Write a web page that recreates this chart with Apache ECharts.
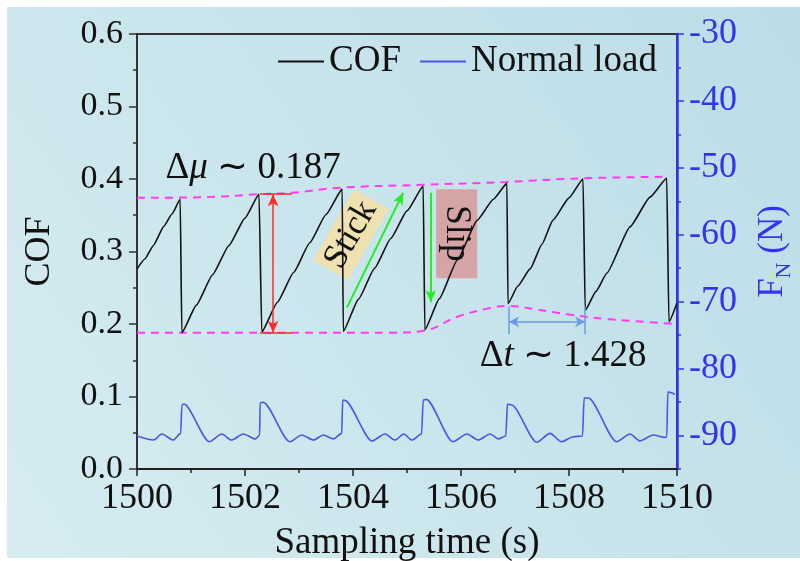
<!DOCTYPE html>
<html>
<head>
<meta charset="utf-8">
<script src="https://cdn.jsdelivr.net/npm/echarts@6/dist/echarts.min.js"></script>
<style>html,body{margin:0;padding:0;background:#fff;}#c{width:800px;height:561px;}</style>
</head>
<body>
<div id="c"></div>
<script>
// ---- data ----
const cofT = [1500.00,1500.15,1500.30,1500.50,1500.65,1500.80,1500.83,1501.10,1501.40,1501.70,1502.00,1502.26,1502.31,1502.60,1502.90,1503.20,1503.50,1503.80,1503.82,1504.10,1504.40,1504.70,1505.00,1505.30,1505.33,1505.60,1505.93,1506.30,1506.60,1506.85,1506.87,1507.05,1507.28,1507.50,1507.70,1508.00,1508.26,1508.30,1508.50,1508.70,1509.13,1509.50,1509.81,1509.85,1510.00];
const cofV = [0.276,0.290,0.308,0.335,0.352,0.372,0.188,0.226,0.268,0.308,0.346,0.379,0.189,0.230,0.271,0.312,0.351,0.386,0.190,0.234,0.277,0.318,0.356,0.390,0.192,0.235,0.288,0.343,0.372,0.394,0.228,0.252,0.276,0.310,0.343,0.374,0.400,0.219,0.245,0.270,0.334,0.375,0.401,0.203,0.229];
const loadT = [1500.00,1500.31,1500.46,1500.67,1500.81,1500.83,1500.87,1501.34,1501.57,1501.75,1501.97,1502.19,1502.27,1502.28,1502.34,1502.83,1503.05,1503.27,1503.45,1503.64,1503.79,1503.81,1503.85,1504.35,1504.59,1504.78,1504.94,1505.09,1505.27,1505.30,1505.36,1505.85,1506.11,1506.32,1506.54,1506.69,1506.83,1506.86,1506.94,1507.40,1507.65,1507.86,1508.08,1508.25,1508.28,1508.36,1508.88,1509.13,1509.31,1509.56,1509.78,1509.81,1509.83,1509.90,1509.96];
const loadV = [-90.07,-90.67,-89.77,-90.67,-89.67,-85.44,-85.29,-90.92,-89.77,-90.67,-89.77,-90.50,-90.00,-85.09,-85.04,-90.92,-89.92,-90.67,-89.92,-90.50,-89.67,-84.69,-84.75,-90.82,-89.77,-90.67,-89.77,-90.67,-89.77,-84.69,-84.60,-90.92,-89.77,-90.67,-89.77,-90.50,-90.07,-85.29,-85.44,-91.00,-89.67,-90.92,-90.17,-90.07,-84.40,-84.40,-90.92,-89.77,-90.80,-89.92,-90.27,-90.20,-83.50,-83.60,-83.90];
const upperEnvT = [1500.00,1501.30,1502.26,1502.87,1503.76,1505.30,1506.85,1508.24,1509.81];
const upperEnvV = [0.374,0.375,0.379,0.381,0.388,0.392,0.396,0.401,0.403];
const lowerEnvT = [1500.00,1502.30,1504.69,1505.33,1505.93,1506.54,1506.89,1507.40,1508.00,1508.70,1509.96];
const lowerEnvV = [0.188,0.188,0.188,0.191,0.210,0.222,0.225,0.220,0.213,0.207,0.200];
const seriesNames = ['COF','Normal load'];
const xTickLabels = [1500,1502,1504,1506,1508,1510];
const leftTickLabels = ['0.0','0.1','0.2','0.3','0.4','0.5','0.6'];
const rightMajorTicks = [-90,-80,-70,-60,-50,-40,-30];
const rightMinorTicks = [-95,-85,-75,-65,-55,-45,-35];
const deltaMuText = '0.187';
const deltaTText = '1.428';

const zip = (a,b)=>a.map((v,i)=>[v,b[i]]);
const FONT = "'Liberation Serif','Times New Roman',serif";
const BLUE_AX = '#3434ee';
const BLUE_LN = '#4b55ea';
const MAG = '#ff3cf0';
const RED = '#ff2a2a';
const GREEN = '#22ee22';
const DTBLUE = '#6b9be6';

const chart = echarts.init(document.getElementById('c'), null, {renderer:'canvas'});

function seg(a, b, color, width, s0, s1, size) {
  return [
    {coord:a, symbol:s0, symbolSize:size, lineStyle:{color:color, width:width, type:'solid'}},
    {coord:b, symbol:s1, symbolSize:size}
  ];
}

const option = {
  animation:false,
  backgroundColor:'#ffffff',
  textStyle:{fontFamily:FONT},
  grid:{left:137, right:123, top:34, bottom:92, show:true, borderColor:'#333', borderWidth:2, backgroundColor:'transparent', outerBoundsMode:'none'},
  legend:{
    data:seriesNames, right:138, top:38, itemWidth:46, itemHeight:2, itemGap:19, icon:'rect',
    textStyle:{fontFamily:FONT, fontSize:37, color:'#111'}
  },
  xAxis:{
    type:'value', min:1500, max:1510, interval:2,
    name:'Sampling time (s)', nameLocation:'middle', nameGap:56,
    nameTextStyle:{fontFamily:FONT, fontSize:37, color:'#111'},
    axisLine:{lineStyle:{color:'#222', width:2}},
    axisTick:{length:7, lineStyle:{color:'#222', width:1.5}},
    minorTick:{show:true, splitNumber:2, length:4, lineStyle:{color:'#222', width:1.5}},
    axisLabel:{fontFamily:FONT, fontSize:36, color:'#111', margin:12,
      formatter:v=> xTickLabels.includes(v) ? String(v) : ''},
    splitLine:{show:false}
  },
  yAxis:[
    {
      type:'value', min:0, max:0.6, interval:0.1, position:'left',
      name:'COF', nameLocation:'middle', nameGap:79, nameRotate:90,
      nameTextStyle:{fontFamily:FONT, fontSize:36, color:'#111'},
      axisLine:{show:true, lineStyle:{color:'#333', width:2}},
      axisTick:{length:8, lineStyle:{color:'#333', width:1.5}},
      minorTick:{show:true, splitNumber:2, length:4, lineStyle:{color:'#333', width:1.5}},
      axisLabel:{fontFamily:FONT, fontSize:34, color:'#111', margin:14,
        formatter:v=> leftTickLabels[Math.round(v*10)]},
      splitLine:{show:false}
    },
    {
      type:'value', min:-95, max:-30, position:'right',
      name:'{f|F}{s|N}{f| (N)}', nameLocation:'middle', nameGap:74, nameRotate:90,
      nameTextStyle:{rich:{
        f:{fontFamily:FONT, fontSize:35, color:BLUE_AX, lineHeight:44, verticalAlign:'middle'},
        s:{fontFamily:FONT, fontSize:22, color:BLUE_AX, lineHeight:20, verticalAlign:'bottom'}
      }},
      axisLine:{show:true, lineStyle:{color:BLUE_AX, width:2.5}},
      axisTick:{length:7, customValues:rightMajorTicks, lineStyle:{color:BLUE_AX, width:1.5}},
      axisLabel:{fontFamily:FONT, fontSize:36, color:BLUE_AX, margin:12, customValues:rightMajorTicks},
      splitLine:{show:false}
    },
    {
      type:'value', min:-95, max:-30, position:'right',
      axisLine:{show:false},
      axisTick:{show:true, length:4, customValues:rightMinorTicks, lineStyle:{color:BLUE_AX, width:1.5}},
      axisLabel:{show:false, customValues:rightMinorTicks},
      splitLine:{show:false}
    }
  ],
  series:[
    {
      name:'upper', type:'line', yAxisIndex:0, data:zip(upperEnvT, upperEnvV),
      smooth:0.4, symbol:'none', silent:true,
      lineStyle:{color:MAG, width:2, type:[8,6]}, z:1
    },
    {
      name:'lower', type:'line', yAxisIndex:0, data:zip(lowerEnvT, lowerEnvV),
      smooth:0.4, symbol:'none', silent:true,
      lineStyle:{color:MAG, width:2, type:[8,6]}, z:1
    },
    {
      name:'COF', type:'line', yAxisIndex:0, data:zip(cofT, cofV),
      symbol:'none', smooth:0.15, smoothMonotone:'x',
      lineStyle:{color:'#111', width:1.6}, itemStyle:{color:'#111'}, z:3,
      markLine:{
        silent:true, animation:false, label:{show:false},
        data:[
          seg([1502.52,0.379],[1502.52,0.188], RED, 1.5, 'arrow','arrow',[8,12]),
          seg([1502.28,0.379],[1502.87,0.379], RED, 1.5, 'none','none',1),
          seg([1502.28,0.188],[1502.87,0.188], RED, 1.5, 'none','none',1),
          seg([1506.89,0.203],[1508.30,0.203], DTBLUE, 1.5, 'arrow','arrow',[8,10]),
          seg([1506.89,0.224],[1506.89,0.186], DTBLUE, 1.5, 'none','none',1),
          seg([1508.30,0.224],[1508.30,0.186], DTBLUE, 1.5, 'none','none',1),
          seg([1503.89,0.223],[1504.93,0.381], GREEN, 2, 'none','arrow',[8,12]),
          seg([1505.44,0.381],[1505.44,0.230], GREEN, 2, 'none','arrow',[8,12])
        ]
      }
    },
    {
      name:'Normal load', type:'line', yAxisIndex:1, data:zip(loadT, loadV),
      symbol:'none', smooth:0.25, smoothMonotone:'x',
      lineStyle:{color:BLUE_LN, width:1.6}, itemStyle:{color:BLUE_LN}, z:3
    }
  ]
};
chart.setOption(option);

function px(t, v){ return chart.convertToPixel({xAxisIndex:0, yAxisIndex:0}, [t, v]); }
const pMu = px(1502.15, 0.415);
const pDt = px(1507.89, 0.156);
const pStick = px(1503.96, 0.323);
const pSlip = px(1505.92, 0.325);
const slipA = px(1505.54, 0.386), slipB = px(1506.30, 0.263);
const richTxt = {
  n:{fontFamily:FONT, fontSize:37, fill:'#111'},
  i:{fontFamily:FONT, fontSize:37, fontStyle:'italic', fill:'#111'}
};
chart.setOption({
  graphic:[
    {type:'rect', z:-10, silent:true, left:7, top:7, shape:{width:793, height:551},
      style:{fill:new echarts.graphic.LinearGradient(0,1,1,0,[{offset:0,color:'#d6ecf1'},{offset:1,color:'#bcdde7'}])}},
    {type:'text', x:pMu[0], y:pMu[1], z:5, silent:true,
      style:{text:'{n|Δ}{i|μ}{n| ∼ '+deltaMuText+'}', fontFamily:FONT, fontSize:37, rich:richTxt, align:'center', verticalAlign:'middle'}},
    {type:'text', x:pDt[0], y:pDt[1], z:5, silent:true,
      style:{text:'{n|Δ}{i|t}{n| ∼ '+deltaTText+'}', fontFamily:FONT, fontSize:37, rich:richTxt, align:'center', verticalAlign:'middle'}},
    {type:'rect', z:0, silent:true,
      shape:{x:slipA[0], y:slipA[1], width:slipB[0]-slipA[0], height:slipB[1]-slipA[1]},
      style:{fill:'rgba(214,160,158,0.92)'}},
    {type:'text', z:0, silent:true, x:pSlip[0], y:pSlip[1], rotation:-Math.PI/2,
      style:{text:'Slip', font:'35px '+FONT, fill:'#111', align:'center', verticalAlign:'middle'}},
    {type:'group', z:10, silent:true, x:pStick[0], y:pStick[1], rotation:60*Math.PI/180,
      children:[
        {type:'rect', shape:{x:-41, y:-20, width:82, height:40}, style:{fill:'#efe1b0'}},
        {type:'text', style:{text:'Stick', font:'35px '+FONT, fill:'#111', align:'center', verticalAlign:'middle'}}
      ]}
  ]
});
</script>
</body>
</html>
